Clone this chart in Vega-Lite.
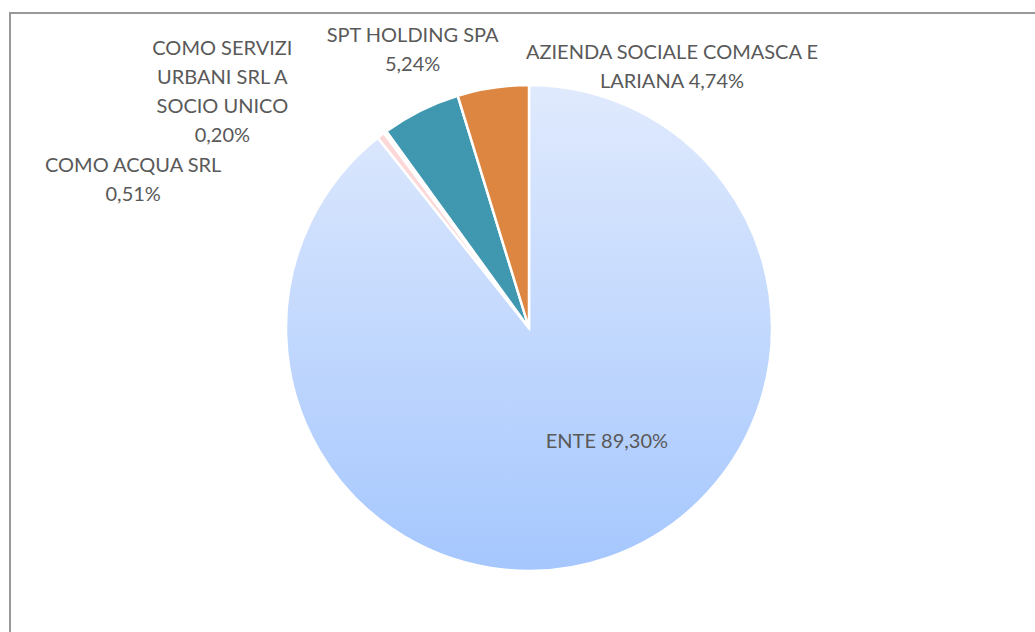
{
  "$schema": "https://vega.github.io/schema/vega-lite/v6.json",
  "width": 1038,
  "height": 630,
  "autosize": {"type": "none"},
  "padding": {"left": 10, "top": 13, "right": 0, "bottom": 0},
  "background": "white",
  "view": {"stroke": "#999999", "strokeWidth": 2, "fill": "white"},
  "config": {"view": {"stroke": "#999999", "strokeWidth": 2}},
  "data": {
    "values": [
      {"name": "ENTE", "label": "ENTE 89,30%", "value": 89.30},
      {"name": "COMO ACQUA SRL", "label": "COMO ACQUA SRL\n0,51%", "value": 0.51},
      {"name": "COMO SERVIZI URBANI SRL A SOCIO UNICO", "label": "COMO SERVIZI\nURBANI SRL A\nSOCIO UNICO\n0,20%", "value": 0.20},
      {"name": "SPT HOLDING SPA", "label": "SPT HOLDING SPA\n5,24%", "value": 5.24},
      {"name": "AZIENDA SOCIALE COMASCA E LARIANA", "label": "AZIENDA SOCIALE COMASCA E\nLARIANA 4,74%", "value": 4.74}
    ]
  },
  "transform": [{"window": [{"op": "row_number", "as": "i"}]}],
  "layer": [
    {
      "mark": {"type": "arc", "outerRadius": 243, "stroke": "white", "strokeWidth": 2.5},
      "encoding": {
        "theta": {"field": "value", "type": "quantitative", "stack": true},
        "order": {"field": "i", "type": "quantitative"},
        "color": {
          "condition": {
            "test": "datum.name === 'ENTE'",
            "value": {"gradient": "linear", "x1": 0, "y1": 0, "x2": 0, "y2": 1,
              "stops": [{"offset": 0, "color": "#e0eafd"}, {"offset": 1, "color": "#a5c7fe"}]}
          },
          "field": "name",
          "type": "nominal",
          "scale": {
            "domain": ["ENTE", "COMO ACQUA SRL", "COMO SERVIZI URBANI SRL A SOCIO UNICO", "SPT HOLDING SPA", "AZIENDA SOCIALE COMASCA E LARIANA"],
            "range": ["#c2d8fd", "#fdd8d8", "#f6f0ee", "#3f98b0", "#dc8641"]
          },
          "legend": null
        }
      }
    },
    {
      "mark": {"type": "text", "radius": 118, "dx": 39, "dy": 3, "font": "Lato", "fontSize": 20, "fill": "#595959", "align": "center", "baseline": "middle", "lineBreak": "\n", "lineHeight": 29},
      "encoding": {
        "theta": {"field": "value", "type": "quantitative", "stack": true},
        "order": {"field": "i", "type": "quantitative"},
        "text": {"condition": {"test": "datum.name === 'ENTE'", "field": "label"}, "value": ""}
      }
    },
    {
      "mark": {"type": "text", "radius": 290, "dx": -219, "dy": 68, "font": "Lato", "fontSize": 20, "fill": "#595959", "align": "center", "baseline": "middle", "lineBreak": "\n", "lineHeight": 29},
      "encoding": {
        "theta": {"field": "value", "type": "quantitative", "stack": true},
        "order": {"field": "i", "type": "quantitative"},
        "text": {"condition": {"test": "datum.name === 'COMO ACQUA SRL'", "field": "label"}, "value": ""}
      }
    },
    {
      "mark": {"type": "text", "radius": 290, "dx": -135, "dy": -45, "font": "Lato", "fontSize": 20, "fill": "#595959", "align": "center", "baseline": "middle", "lineBreak": "\n", "lineHeight": 29},
      "encoding": {
        "theta": {"field": "value", "type": "quantitative", "stack": true},
        "order": {"field": "i", "type": "quantitative"},
        "text": {"condition": {"test": "datum.name === 'COMO SERVIZI URBANI SRL A SOCIO UNICO'", "field": "label"}, "value": ""}
      }
    },
    {
      "mark": {"type": "text", "radius": 290, "dx": 13, "dy": -32, "font": "Lato", "fontSize": 20, "fill": "#595959", "align": "center", "baseline": "middle", "lineBreak": "\n", "lineHeight": 29},
      "encoding": {
        "theta": {"field": "value", "type": "quantitative", "stack": true},
        "order": {"field": "i", "type": "quantitative"},
        "text": {"condition": {"test": "datum.name === 'SPT HOLDING SPA'", "field": "label"}, "value": ""}
      }
    },
    {
      "mark": {"type": "text", "radius": 290, "dx": 186, "dy": 12, "font": "Lato", "fontSize": 20, "fill": "#595959", "align": "center", "baseline": "middle", "lineBreak": "\n", "lineHeight": 29},
      "encoding": {
        "theta": {"field": "value", "type": "quantitative", "stack": true},
        "order": {"field": "i", "type": "quantitative"},
        "text": {"condition": {"test": "datum.name === 'AZIENDA SOCIALE COMASCA E LARIANA'", "field": "label"}, "value": ""}
      }
    }
  ]
}
